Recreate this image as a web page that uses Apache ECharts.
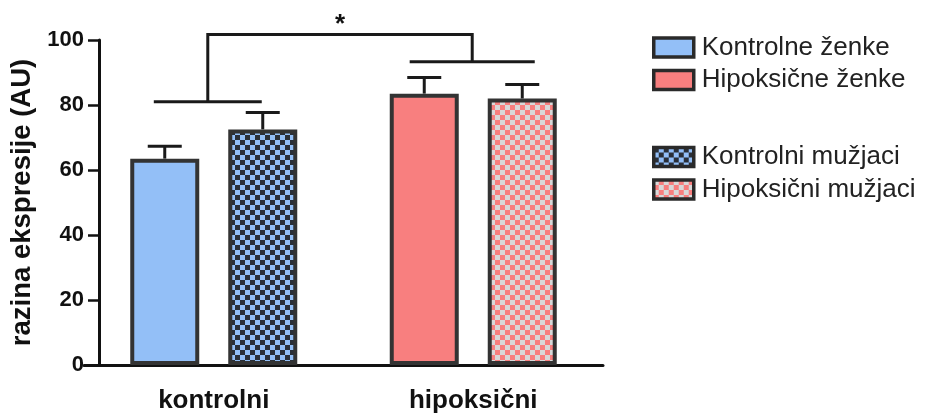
<!DOCTYPE html>
<html lang="en">
<head>
    <meta charset="UTF-8">
    <title>razina ekspresije</title>
    <script src="https://cdn.jsdelivr.net/npm/echarts@6/dist/echarts.min.js"></script>
    <style>
        body { margin: 0; background: #fff; }
    </style>
</head>
<body>
<div id="main" style="width: 925px;height: 414px;"></div>
<script type="text/javascript">
    // podaci
    var categories = ['kontrolni', 'hipoksični'];
    var seriesNames = ['Kontrolne ženke', 'Hipoksične ženke', 'Kontrolni mužjaci', 'Hipoksični mužjaci'];
    var zenke = [63.5, 83.5];
    var zenkeErr = [3.8, 5.0];
    var muzjaci = [72.5, 82.0];
    var muzjaciErr = [5.2, 4.3];
    var yTicks = [0, 20, 40, 60, 80, 100];
    // zagrade za znacajnost: [kategorija, y, lijevo (udio), desno (udio)]
    var brackets = [[0, 81, -0.231, 0.185], [1, 93.3, -0.245, 0.237]];
    var bracketTop = 101.7;
    var sigLabel = '*';

    var FONT = 'Liberation Sans, Arial, Helvetica, sans-serif';
    var BW = 69, GAP = 29;
    var EDGE = '#333333';

    function checker(c1, c2, s) {
        var cv = document.createElement('canvas');
        cv.width = s * 2; cv.height = s * 2;
        var ctx = cv.getContext('2d');
        ctx.fillStyle = c1; ctx.fillRect(0, 0, s * 2, s * 2);
        ctx.fillStyle = c2;
        ctx.fillRect(0, 0, s, s);
        ctx.fillRect(s, s, s, s);
        return {image: cv, repeat: 'repeat'};
    }

    var blue = '#93bff7';
    var red = '#f87f7f';
    var blueCheck = checker(blue, '#2a2f38', 5);
    var redCheck = checker(red, '#d9d9d9', 5);

    var myChart = echarts.init(document.getElementById('main'));

    function errItems(vals, errs, slot) {
        var out = [];
        for (var i = 0; i < vals.length; i++) {
            out.push([i, vals[i], errs[i], slot]);
        }
        return out;
    }
    var errData = errItems(zenke, zenkeErr, -1).concat(errItems(muzjaci, muzjaciErr, 1));

    function only(arr, idx) {
        return arr.map(function (v, i) { return i === idx ? v : '-'; });
    }

    var lineStyle = {stroke: '#1a1a1a', lineWidth: 3, fill: null};
    var legendCommon = {
        orient: 'vertical', left: 647,
        icon: 'rect', itemWidth: 40, itemHeight: 19, itemGap: 6.5,
        itemStyle: {borderColor: '#2a2a2a', borderWidth: 3.5},
        textStyle: {fontFamily: FONT, fontSize: 26, lineHeight: 26, color: '#222', padding: [0, 0, 0, 3]}
    };

    myChart.setOption({
        animation: false,
        grid: {left: 84, right: 322, top: 40, bottom: 47.3},
        legend: [
            Object.assign({data: seriesNames.slice(0, 2), top: 29.5}, legendCommon),
            Object.assign({data: seriesNames.slice(2, 4), top: 139}, legendCommon)
        ],
        xAxis: {
            type: 'category',
            data: categories,
            axisLine: {lineStyle: {color: '#111', width: 3}},
            axisTick: {alignWithLabel: true, length: 7, lineStyle: {color: '#111', width: 2.5}},
            axisLabel: {fontFamily: FONT, fontSize: 26, fontWeight: 'bold', color: '#111', margin: 23}
        },
        yAxis: {
            type: 'value',
            min: 0, max: 100, interval: 20,
            offset: -15,
            name: 'razina ekspresije (AU)',
            nameLocation: 'middle',
            nameGap: 56,
            nameTextStyle: {fontFamily: FONT, fontSize: 27.5, fontWeight: 'bold', color: '#111'},
            axisLine: {show: true, lineStyle: {color: '#111', width: 3}},
            axisTick: {show: true, length: 11, lineStyle: {color: '#111', width: 2.5}},
            axisLabel: {
                fontFamily: FONT, fontSize: 22, fontWeight: 'bold', color: '#111', margin: 15,
                formatter: function (v) { return yTicks.indexOf(v) >= 0 ? String(v) : ''; }
            },
            splitLine: {show: false}
        },
        series: [{
            name: seriesNames[0], type: 'bar', stack: 'z', barWidth: BW,
            data: only(zenke, 0),
            itemStyle: {color: blue, borderColor: EDGE, borderWidth: 4}
        }, {
            name: seriesNames[1], type: 'bar', stack: 'z', barWidth: BW,
            data: only(zenke, 1),
            itemStyle: {color: red, borderColor: EDGE, borderWidth: 4}
        }, {
            name: seriesNames[2], type: 'bar', stack: 'm', barWidth: BW,
            data: only(muzjaci, 0),
            itemStyle: {color: blueCheck, borderColor: EDGE, borderWidth: 4}
        }, {
            name: seriesNames[3], type: 'bar', stack: 'm', barWidth: BW, barGap: (GAP / BW * 100) + '%',
            data: only(muzjaci, 1),
            itemStyle: {color: redCheck, borderColor: EDGE, borderWidth: 4}
        }, {
            // error bars
            type: 'custom',
            z: 5,
            clip: false,
            data: errData,
            renderItem: function (params, api) {
                var off = api.value(3) * (BW + GAP) / 2;
                var base = api.coord([api.value(0), api.value(1)]);
                var top = api.coord([api.value(0), api.value(1) + api.value(2)]);
                var x = base[0] + off;
                var capHalf = 17;
                return {
                    type: 'group',
                    children: [{
                        type: 'line',
                        shape: {x1: x, y1: base[1], x2: x, y2: top[1]},
                        style: lineStyle
                    }, {
                        type: 'line',
                        shape: {x1: x - capHalf, y1: top[1], x2: x + capHalf, y2: top[1]},
                        style: lineStyle
                    }]
                };
            }
        }, {
            // znacajnost
            type: 'custom',
            z: 5,
            clip: false,
            data: brackets,
            renderItem: function (params, api) {
                var band = api.size([1, 0])[0];
                var c = api.coord([api.value(0), api.value(1)]);
                var xl = c[0] + api.value(2) * band;
                var xr = c[0] + api.value(3) * band;
                var mid = (xl + xr) / 2;
                var children = [{
                    type: 'line',
                    shape: {x1: xl, y1: c[1], x2: xr, y2: c[1]},
                    style: lineStyle
                }];
                if (params.dataIndex === 0) {
                    var b1 = brackets[1];
                    var c1 = api.coord([b1[0], b1[1]]);
                    var mid1 = c1[0] + (b1[2] + b1[3]) / 2 * band;
                    var t = api.coord([0, bracketTop])[1];
                    children.push({
                        type: 'polyline',
                        shape: {points: [[mid, c[1]], [mid, t], [mid1, t], [mid1, c1[1]]]},
                        style: lineStyle
                    });
                    children.push({
                        type: 'text',
                        style: {
                            text: sigLabel, x: (mid + mid1) / 2, y: t - 10,
                            align: 'center', verticalAlign: 'middle',
                            font: 'bold 26px ' + FONT, fill: '#111'
                        }
                    });
                }
                return {type: 'group', children: children};
            }
        }]
    });
</script>
</body>
</html>
